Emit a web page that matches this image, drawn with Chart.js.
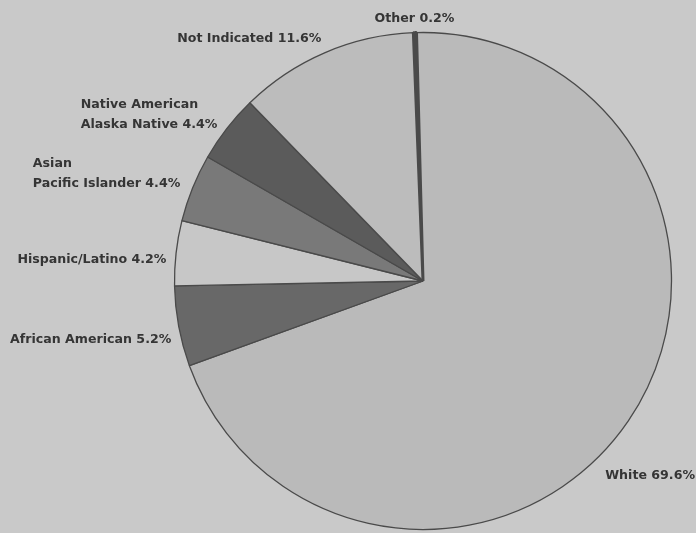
<!DOCTYPE html>
<html>
<head>
<meta charset="utf-8">
<script src="https://cdn.jsdelivr.net/npm/chart.js@4.4.1/dist/chart.umd.min.js"></script>
<style>
  html, body { margin: 0; padding: 0; background: #c9c9c9; }
  #wrap { width: 696px; height: 533px; position: relative; }
</style>
</head>
<body>
<div id="wrap"><canvas id="chartCanvas"></canvas></div>
<script>
// ---------------- Data ----------------
const categories = [
  "White",
  "African American",
  "Hispanic/Latino",
  "Asian|Pacific Islander",
  "Native American|Alaska Native",
  "Not Indicated",
  "Other",
];
const percents = [69.6, 5.2, 4.2, 4.4, 4.4, 11.6, 0.2];

// ---------------- Styles ----------------
const sliceColors = ["#bababa", "#686868", "#c7c7c7", "#797979", "#5b5b5b", "#bcbcbc", "#4e4e4e"];
const sliceBorders = [1.3, 1.3, 1.3, 1.3, 1.3, 1.3, 3];
// where along each slice the label sits (0..1) and how far outside the rim
const labelAt = [0.55, 0.36, 0.39, 0.62, 0.57, 0.51, 0.5];
const labelGap = [18, 10, 9, 17, 16, 14, 14];

// ---------------- Label plugin ----------------
const outsideLabels = {
  id: "outsideLabels",
  afterDatasetsDraw(chart) {
    const { ctx } = chart;
    const meta = chart.getDatasetMeta(0);
    ctx.save();
    ctx.font = "bold 12.6px 'DejaVu Sans'";
    ctx.fillStyle = "#353535";
    ctx.textBaseline = "middle";
    ctx.textAlign = "left";
    meta.data.forEach((arc, i) => {
      const { x, y, startAngle, endAngle, outerRadius } = arc.getProps(
        ["x", "y", "startAngle", "endAngle", "outerRadius"], true);
      const a = startAngle + (endAngle - startAngle) * labelAt[i];
      const r = outerRadius + labelGap[i];
      const ax = x + Math.cos(a) * r;
      const ay = y + Math.sin(a) * r;
      const lines = categories[i].split("|");
      lines[lines.length - 1] += " " + percents[i].toFixed(1) + "%";
      const w = Math.max(...lines.map((l) => ctx.measureText(l).width));
      const lh = 20;
      const top = ay - ((lines.length - 1) * lh) / 2;
      let left;
      if (Math.abs(Math.cos(a)) < 0.1) left = ax - w / 2;
      else if (Math.cos(a) > 0) left = ax;
      else left = ax - w;
      lines.forEach((l, k) => ctx.fillText(l, left, top + k * lh));
    });
    ctx.restore();
  },
};

// ---------------- Chart ----------------
const ctx = document.getElementById("chartCanvas").getContext("2d");
new Chart(ctx, {
  type: "pie",
  data: {
    labels: categories,
    datasets: [
      {
        data: percents,
        backgroundColor: sliceColors,
        borderColor: "#4a4a4a",
        borderWidth: sliceBorders,
        hoverOffset: 0,
      },
    ],
  },
  options: {
    responsive: true,
    maintainAspectRatio: false,
    animation: false,
    rotation: -1.5,
    layout: { padding: { left: 173, right: 23, top: 31, bottom: 2 } },
    plugins: { legend: { display: false }, tooltip: { enabled: false } },
  },
  plugins: [outsideLabels],
});
</script>
</body>
</html>
